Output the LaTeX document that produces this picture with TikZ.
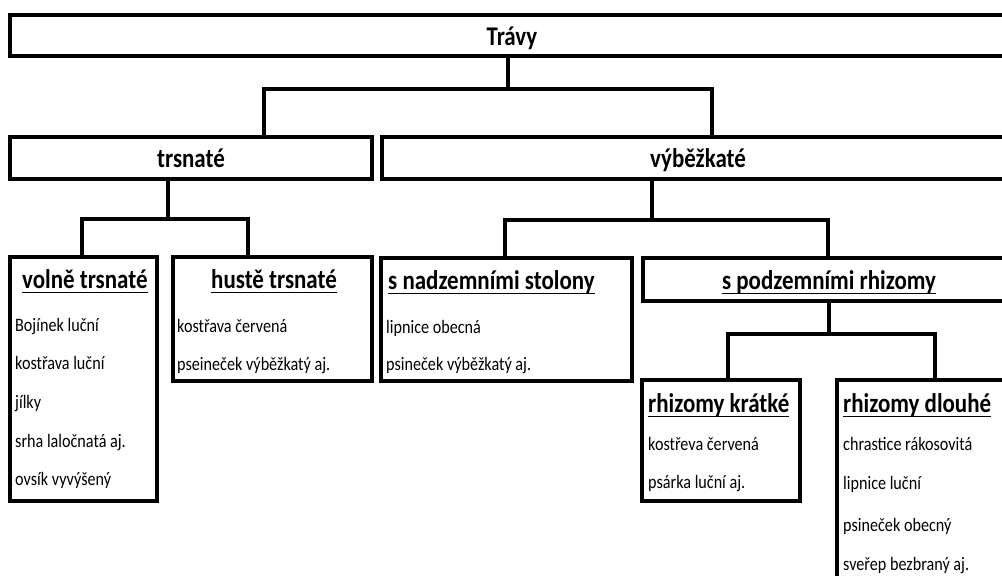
\documentclass[tikz,border=0pt]{standalone}
\usepackage{fontspec}
\setmainfont{Carlito}[FakeStretch=0.85]
\newcommand\myul[1]{\setbox0\hbox{#1}\rlap{\rule[-5pt]{\wd0}{1.5pt}}\box0}
\tikzset{
  box/.style={draw, line width=3.6pt, anchor=north west, inner sep=0pt, outer sep=0pt,
    font=\fontsize{27}{27}\selectfont\bfseries, text height=24pt, text depth=5pt},
  conn/.style={line width=3.6pt, line cap=rect, line join=miter},
  head/.style={anchor=base west, inner sep=0pt, font=\fontsize{27}{27}\selectfont\bfseries},
  item/.style={anchor=base west, inner sep=0pt, font=\fontsize{19}{19}\selectfont},
}
\begin{document}
\begin{tikzpicture}[x=1pt, y=-1pt]
\useasboundingbox (0,0) rectangle (1002,576);
\clip (0,0) rectangle (1002,576);
% boxes
\node[box, minimum width=1004pt, minimum height=41pt] (travy) at (10,15) {Trávy};
\node[box, minimum width=362pt, minimum height=42pt] (trsnate) at (10,137) {trsnaté};
\node[box, minimum width=632pt, minimum height=42pt] (vybezkate) at (382,137) {výběžkaté};
\node[box, minimum width=147pt, minimum height=244pt] (volne) at (10,257) {};
\node[box, minimum width=199pt, minimum height=124pt] (huste) at (173,257) {};
\node[box, minimum width=251pt, minimum height=123pt] (nadz) at (381,258) {};
\node[box, minimum width=372pt, minimum height=43pt] (podz) at (643,258) {\myul{s podzemními rhizomy}};
\node[box, minimum width=158pt, minimum height=121pt] (kratke) at (642,380) {};
\node[box, minimum width=200pt, minimum height=260pt] (dlouhe) at (837,380) {};
% connectors
\coordinate (j1) at (508,89);
\draw[conn] (travy.south -| j1) -- (j1) -| (trsnate.north -| 264,0);
\draw[conn] (j1) -| (vybezkate.north -| 712,0);
\coordinate (j2) at (168,219);
\draw[conn] (trsnate.south -| j2) -- (j2) -| (volne.north -| 82,0);
\draw[conn] (j2) -| (huste.north -| 248,0);
\coordinate (j3) at (652,220);
\draw[conn] (vybezkate.south -| j3) -- (j3) -| (nadz.north -| 505,0);
\draw[conn] (j3) -| (podz.north -| 828,0);
\coordinate (j4) at (829,334);
\draw[conn] (podz.south -| j4) -- (j4) -| (kratke.north -| 728,0);
\draw[conn] (j4) -| (dlouhe.north -| 935,0);
% headings
\node[head] (hvolne) at (22,288) {\myul{volně trsnaté}};
\node[head] (hhuste) at (211,288) {\myul{hustě trsnaté}};
\node[head] (hnadz) at (388,289) {\myul{s nadzemními stolony}};
\node[head] (hkratke) at (648,412) {\myul{rhizomy krátké}};
\node[head] (hdlouhe) at (843,412) {\myul{rhizomy dlouhé}};
% items
\node[item] (v1) at (15,331) {Bojínek luční};
\node[item] (v2) at (15,369.5) {kostřava luční};
\node[item] (v3) at (15,408) {jílky};
\node[item] (v4) at (15,447) {srha laločnatá aj.};
\node[item] (v5) at (15,485.5) {ovsík vyvýšený};
\node[item] (h1) at (177,332) {kostřava červená};
\node[item] (h2) at (177,370) {pseineček výběžkatý aj.};
\node[item] (n1) at (386,333) {lipnice obecná};
\node[item] (n2) at (386,370) {psineček výběžkatý aj.};
\node[item] (k1) at (648,450) {kostřeva červená};
\node[item] (k2) at (648,488) {psárka luční aj.};
\node[item] (d1) at (843,450) {chrastice rákosovitá};
\node[item] (d2) at (843,489) {lipnice luční};
\node[item] (d3) at (843,531) {psineček obecný};
\node[item] (d4) at (843,570) {sveřep bezbraný aj.};
\end{tikzpicture}
\end{document}
